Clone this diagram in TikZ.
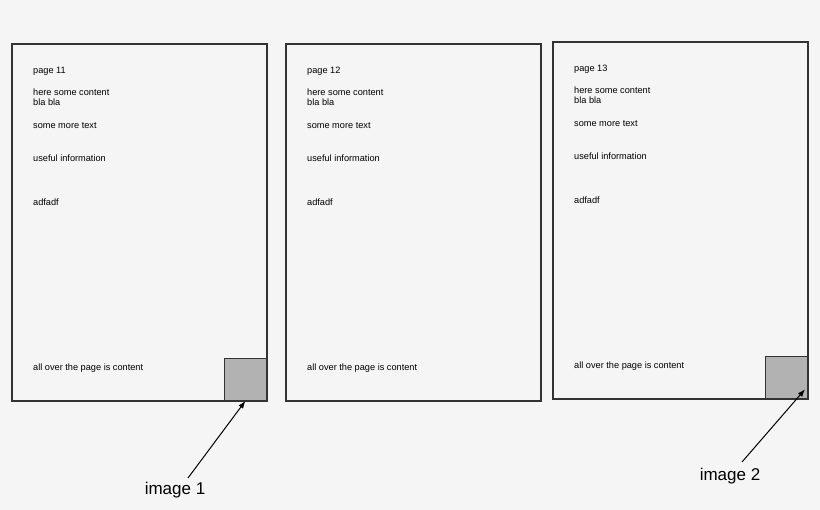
\documentclass[tikz,border=0pt]{standalone}
\usepackage{fontspec}
\setmainfont{Liberation Sans}
\usetikzlibrary{arrows.meta}
\begin{document}
\begin{tikzpicture}[x=1pt,y=-1pt, page/.style = {draw=black!80, line width=1.3pt},
  img/.style = {draw=black!80, line width=1.3pt, fill=black!30},
  txt/.style = {anchor=west, font=\fontsize{9.2}{10}\selectfont, inner sep=0pt, align=left},
  lbl/.style = {font=\fontsize{17}{19}\selectfont, inner sep=1pt}]
\fill[black!4] (0,0) rectangle (820,510);
\useasboundingbox (0,0) rectangle (820,510);
% pages
\foreach \n/\x/\y in {11/12/44, 12/286/44, 13/553/42} {
  \draw[page] (\x,\y) rectangle ++(255,357);
  \node[txt] at (\x+21,\y+27) {page \n};
  \node[txt] at (\x+21,\y+53) {here some content\\bla bla};
  \node[txt] at (\x+21,\y+82) {some more text};
  \node[txt] at (\x+21,\y+114) {useful information};
  \node[txt] at (\x+21,\y+158) {adfadf};
  \node[txt] at (\x+21,\y+324) {all over the page is content};
}
\node[img, minimum size=42pt, inner sep=0pt, anchor=south east] (I1) at (267,401) {};
\node[img, minimum size=42pt, inner sep=0pt, anchor=south east] (I2) at (808,399) {};
\node[lbl] (L1) at (175,490) {image 1};
\node[lbl] (L2) at (730,476) {image 2};
\coordinate (A1) at (188,478);
\coordinate (A2) at (742,462);
\draw[-Latex, line width=1pt] (A1) -- (I1.south);
\draw[-Latex, line width=1pt] (A2) -- ([xshift=-3pt,yshift=-12pt]I2.east);
\end{tikzpicture}
\end{document}
